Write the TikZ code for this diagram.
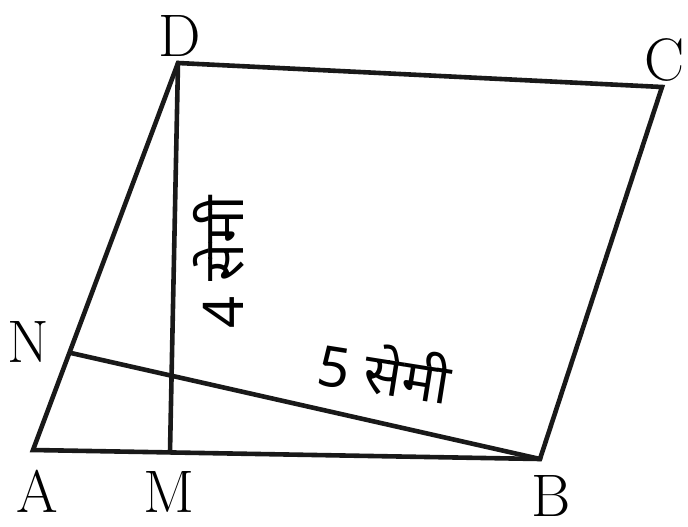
\documentclass[tikz,border=0pt]{standalone}
\usepackage{fontspec}
\newfontfamily\devfont[Script=Devanagari]{Noto Sans}
\begin{document}
\begin{tikzpicture}[x=1pt,y=-1pt,
  edge/.style={line width=4.6pt, line join=miter, line cap=round, black!90},
  lbl/.style={font=\fontsize{60}{60}\selectfont, inner sep=0pt},
  meas/.style={font=\fontsize{56}{56}\selectfont\devfont, inner sep=0pt}]
\useasboundingbox (0,0) rectangle (688,527);
\coordinate (A) at (33,450);
\coordinate (B) at (540,459);
\coordinate (C) at (662,87);
\coordinate (D) at (178,63);
\coordinate (M) at (170,452);
\coordinate (N) at (71,353);
\draw[edge] (A) -- (B) -- (C) -- (D) -- cycle;
\draw[edge] (D) -- (M);
\draw[edge] (N) -- (B);
\node[lbl] (lD) at (180,36) {D};
\node[lbl] (lC) at (665,60) {C};
\node[lbl] (lN) at (28,342) {N};
\node[lbl] (lA) at (37,491) {A};
\node[lbl] (lM) at (169,492) {M};
\node[lbl] (lB) at (551,496) {B};
\node[meas, rotate=90] (t4) at (219,262) {4 सेमी};
\node[meas, rotate=-9] (t5) at (385,370) {5 सेमी};
\end{tikzpicture}
\end{document}
